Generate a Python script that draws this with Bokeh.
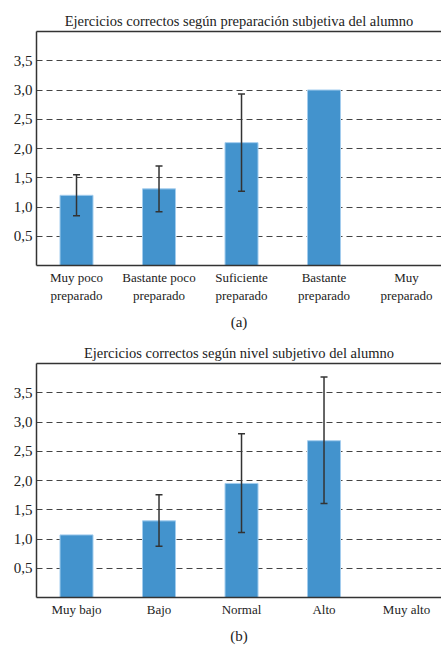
from bokeh.plotting import figure
from bokeh.models import Range1d, FixedTicker, LinearAxis, Whisker, ColumnDataSource, TeeHead, Title
from bokeh.layouts import column
from bokeh.embed import file_html
from bokeh.resources import INLINE

# ---- data ----
title_a = "Ejercicios correctos según preparación subjetiva del alumno"
categories_a = ["Muy poco\npreparado", "Bastante poco\npreparado", "Suficiente\npreparado",
                "Bastante\npreparado", "Muy\npreparado"]
values_a = [1.20, 1.31, 2.10, 3.00]
err_index_a = [0, 1, 2]
err_low_a = [0.85, 0.92, 1.27]
err_high_a = [1.55, 1.70, 2.93]
caption_a = "(a)"

title_b = "Ejercicios correctos según nivel subjetivo del alumno"
categories_b = ["Muy bajo", "Bajo", "Normal", "Alto", "Muy alto"]
values_b = [1.07, 1.31, 1.95, 2.68]
err_index_b = [1, 2, 3]
err_low_b = [0.875, 1.11, 1.605]
err_high_b = [1.755, 2.80, 3.77]
caption_b = "(b)"

y_ticks = [0.5, 1.0, 1.5, 2.0, 2.5, 3.0, 3.5]
y_tick_labels = ["0,5", "1,0", "1,5", "2,0", "2,5", "3,0", "3,5"]

FONT = "Liberation Serif"
TXT = "#222222"
AX = "#333333"
BAR = "#4393cd"


def make_chart(title, cats, vals, eidx, lo, hi, caption, border_bottom):
    p = figure(frame_width=405, frame_height=234, output_backend="svg", toolbar_location=None,
               x_range=Range1d(-0.485, 4.424), y_range=Range1d(0, 4.0),
               min_border_left=36, min_border_right=0, min_border_top=31,
               min_border_bottom=border_bottom)
    p.title = Title(text=title, align="center", text_font=FONT, text_font_size="14.5px",
                    text_font_style="normal", text_color=TXT, standoff=6)
    p.outline_line_color = None
    p.background_fill_color = "white"
    p.border_fill_color = "white"

    xa = p.below[0]
    ya = p.left[0]

    top_axis = LinearAxis(ticker=FixedTicker(ticks=[]), major_label_text_font_size="0px",
                          major_tick_line_color=None, minor_tick_line_color=None,
                          major_tick_out=0, minor_tick_out=0,
                          axis_line_color=AX, axis_line_width=1.5, major_label_standoff=0)
    p.add_layout(top_axis, "above")

    p.vbar(x=list(range(len(vals))), top=vals, width=0.4, bottom=0,
           fill_color=BAR, line_color="#a3cdee", line_width=1)

    src = ColumnDataSource(dict(base=eidx, lower=lo, upper=hi))
    w = Whisker(source=src, base="base", lower="lower", upper="upper", dimension="height",
                line_color=AX, line_width=1.5, level="annotation",
                upper_head=TeeHead(size=7, line_color=AX, line_width=1.5),
                lower_head=TeeHead(size=7, line_color=AX, line_width=1.5))
    p.add_layout(w)

    p.xgrid.visible = False
    p.ygrid.ticker = FixedTicker(ticks=y_ticks)
    p.ygrid.grid_line_color = "#444444"
    p.ygrid.grid_line_dash = "6 4"
    p.ygrid.grid_line_width = 1.2

    xa.ticker = FixedTicker(ticks=list(range(len(cats))))
    xa.major_label_overrides = {i: c for i, c in enumerate(cats)}
    xa.major_tick_line_color = None
    xa.minor_tick_line_color = None
    xa.major_tick_out = 0
    xa.axis_line_color = AX
    xa.axis_line_width = 1.5
    xa.major_label_text_font = FONT
    xa.major_label_text_font_size = "13px"
    xa.major_label_text_color = TXT
    xa.major_label_standoff = 4
    xa.axis_label = caption
    xa.axis_label_text_font = FONT
    xa.axis_label_text_font_size = "15px"
    xa.axis_label_text_font_style = "normal"
    xa.axis_label_text_color = TXT
    xa.axis_label_standoff = 8

    ya.ticker = FixedTicker(ticks=y_ticks)
    ya.major_label_overrides = {t: l for t, l in zip(y_ticks, y_tick_labels)}
    ya.major_tick_line_color = None
    ya.minor_tick_line_color = None
    ya.major_tick_out = 0
    ya.axis_line_color = AX
    ya.axis_line_width = 1.5
    ya.major_label_text_font = FONT
    ya.major_label_text_font_size = "15px"
    ya.major_label_text_color = TXT
    ya.major_label_standoff = 4
    return p


pa = make_chart(title_a, categories_a, values_a, err_index_a, err_low_a, err_high_a,
                caption_a, 66)
pb = make_chart(title_b, categories_b, values_b, err_index_b, err_low_b, err_high_b,
                caption_b, 48)

layout = column(pa, pb, spacing=0)
open("out.html", "w").write(file_html(layout, INLINE))
